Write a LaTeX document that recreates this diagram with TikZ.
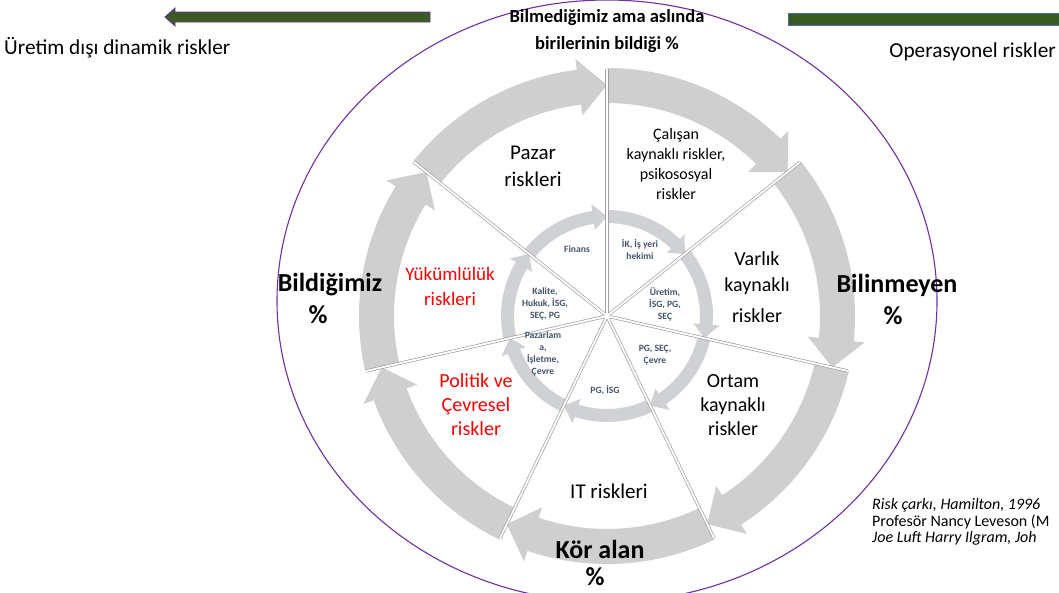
\documentclass[tikz,border=0pt]{standalone}
\usepackage{fontspec}
\setmainfont{Carlito}
\definecolor{ringgray}{HTML}{CFCFCF}
\definecolor{inringgray}{HTML}{CFD1D5}
\definecolor{divgray}{HTML}{A0A0A0}
\definecolor{dkgreen}{HTML}{3A5A24}
\definecolor{ellpurple}{HTML}{7030A0}
\definecolor{barblue}{HTML}{41719C}
\definecolor{innertext}{HTML}{44546A}
\definecolor{redtext}{HTML}{FF0000}
\begin{document}
\begin{tikzpicture}[x=1pt,y=-1pt,
  lbl/.style={align=center, inner sep=0pt, text=black},
  redlbl/.style={align=center, inner sep=0pt, text=redtext},
  inlbl/.style={align=center, inner sep=0pt, text=innertext, font=\fontsize{9.6}{12}\selectfont\bfseries},
  biglbl/.style={align=center, inner sep=0pt, font=\fontsize{26}{30}\selectfont\bfseries},
  divline/.style={draw=divgray, double=white, double distance=1.8pt, line width=0.7pt},
  outerring/.style={fill=ringgray},
  innerring/.style={fill=inringgray}]
\useasboundingbox (0,0) rectangle (1059,592);
\fill[white] (0,0) rectangle (1059,592);

% big ellipse
\draw[ellpurple, line width=1.1pt] (607,301) ellipse [x radius=330, y radius=301];

% top arrows
\filldraw[fill=dkgreen, draw=ellpurple, line width=0.8pt]
  (430,12) -- (175,12) -- (175,8) -- (165,17) -- (175,26) -- (175,22) -- (430,22) -- cycle;
\filldraw[fill=dkgreen, draw=barblue, line width=1pt] (788,13) rectangle (1070,25);

% wheel
\begin{scope}[shift={(607,316)}, y=1pt]
  \foreach \k in {0,...,6} {
    \pgfmathsetmacro\s{90-360/7*\k}
    \pgfmathsetmacro\e{\s-360/7}
    \pgfmathsetmacro\b{\e+7}
    \fill[outerring] (\s:213) arc[start angle=\s, end angle=\b, radius=213]
      -- (\b:202) -- (\e:231) -- (\b:259) -- (\b:248)
      arc[start angle=\b, end angle=\s, radius=248] -- cycle;
    \pgfmathsetmacro\bi{\e+8}
    \fill[innerring] (\s:93) arc[start angle=\s, end angle=\bi, radius=93]
      -- (\bi:87) -- (\e:99.5) -- (\bi:113) -- (\bi:106)
      arc[start angle=\bi, end angle=\s, radius=106] -- cycle;
  }
  \foreach \k in {0,...,6} {
    \pgfmathsetmacro\s{90-360/7*\k}
    \draw[divline] (\s:3) -- (\s:247);
  }
\end{scope}

% texts
\node[lbl, anchor=west, font=\fontsize{21.3}{25}\selectfont] (uretim) at (4,48) {Üretim dışı dinamik riskler};
\node[lbl, anchor=east, font=\fontsize{21.3}{25}\selectfont] (operas) at (1056,52) {Operasyonel riskler};
\node[lbl, font=\fontsize{18.5}{27}\selectfont\bfseries] (title) at (607,31) {Bilmediğimiz ama aslında\\birilerinin bildiği \%};

\node[biglbl] (bildigimiz) at (330,285) {Bildiğimiz};
\node[biglbl] (bildpct) at (318,315) {\%};
\node[biglbl] (bilinmeyen) at (897,285) {Bilinmeyen};
\node[biglbl] (bilinpct) at (893,316) {\%};
\node[biglbl] (koralan) at (600,549) {Kör alan};
\node[biglbl] (korpct) at (595,577) {\%};

\node[lbl, font=\fontsize{21}{27}\selectfont] (pazar) at (533,166) {Pazar\\riskleri};
\node[lbl, font=\fontsize{16}{20}\selectfont] (calisan) at (676,164) {Çalışan\\kaynaklı riskler,\\psikososyal\\riskler};
\node[lbl, font=\fontsize{20}{26}\selectfont] (varlik1) at (757,273) {Varlık\\kaynaklı};
\node[lbl, font=\fontsize{20}{26}\selectfont] (varlik2) at (757,316) {riskler};
\node[lbl, font=\fontsize{20}{24}\selectfont] (ortam) at (733,405) {Ortam\\kaynaklı\\riskler};
\node[lbl, font=\fontsize{21}{24}\selectfont] (it) at (609,491) {IT riskleri};
\node[redlbl, font=\fontsize{20}{24}\selectfont] (politik) at (476,405) {Politik ve\\Çevresel\\riskler};
\node[redlbl, font=\fontsize{19}{25}\selectfont] (yukum) at (450,286) {Yükümlülük\\riskleri};

\node[inlbl] (finans) at (577,249) {Finans};
\node[inlbl] (ik) at (640,250) {İK, İş yeri\\hekimi};
\node[inlbl] (uretimin) at (665,304) {Üretim,\\İSG, PG,\\SEÇ};
\node[inlbl] (pgsec) at (655,355) {PG, SEÇ,\\Çevre};
\node[inlbl] (pgisg) at (605,390) {PG, İSG};
\node[inlbl] (pazarlama) at (543,354) {Pazarlam\\a,\\İşletme,\\Çevre};
\node[inlbl] (kalite) at (545,304) {Kalite,\\Hukuk, İSG,\\SEÇ, PG};

\node[lbl, anchor=west, font=\fontsize{16}{16.5}\selectfont\itshape] (ref1) at (872,505) {Risk çarkı, Hamilton, 1996};
\node[lbl, anchor=west, font=\fontsize{16}{16.5}\selectfont] (ref2) at (872,522) {Profesör Nancy Leveson (M};
\node[lbl, anchor=west, font=\fontsize{16}{16.5}\selectfont\itshape] (ref3) at (872,538) {Joe Luft Harry Ilgram, Joh};
\end{tikzpicture}
\end{document}
